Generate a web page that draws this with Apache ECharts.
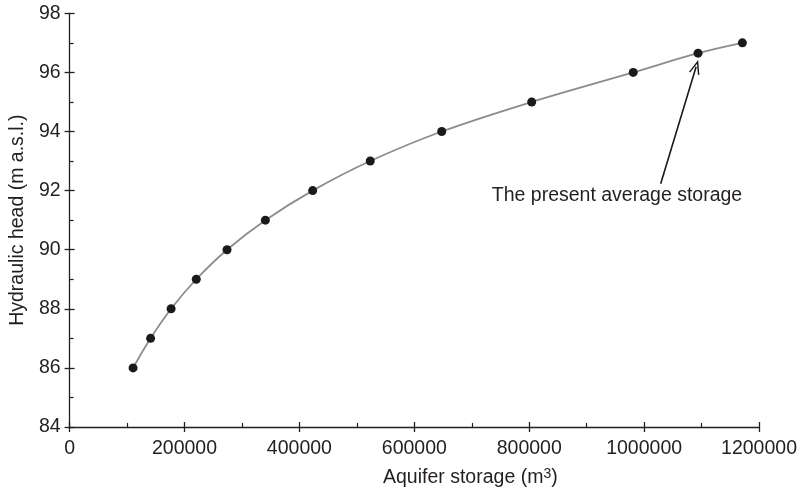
<!DOCTYPE html>
<html>
<head>
<meta charset="utf-8">
<script src="https://cdn.jsdelivr.net/npm/echarts@6/dist/echarts.min.js"></script>
<style>
html,body{margin:0;padding:0;background:#fff;}
#chart{width:800px;height:493px;}
</style>
</head>
<body>
<div id="chart"></div>
<script>
// Data
var storage = [110500, 141000, 176700, 220500, 274000, 340800, 423100, 523300, 647700, 804300, 981000, 1093800, 1171000];
var head = [86, 87, 88, 89, 90, 91, 92, 93, 94, 95, 96, 96.65, 97];
var xTicks = [0, 200000, 400000, 600000, 800000, 1000000, 1200000];
var yTicks = [84, 86, 88, 90, 92, 94, 96, 98];
var annotationText = 'The present average storage';
var arrowFrom = [1028800, 92.23];
var arrowTo = [1090500, 96.19];

var FONT = '"Liberation Sans", Arial, Helvetica, sans-serif';
var TXT = '#231f20';
var pts = storage.map(function (x, i) { return [x, head[i]]; });

var chart = echarts.init(document.getElementById('chart'), null, {renderer: 'canvas'});

function baseX(extra) {
  return Object.assign({
    type: 'value', gridIndex: 0, position: 'bottom',
    min: xTicks[0], max: xTicks[xTicks.length - 1], interval: xTicks[1] - xTicks[0],
    splitLine: {show: false},
    axisLine: {show: true, onZero: false, lineStyle: {color: '#231f20', width: 1.3}}
  }, extra);
}
function baseY(extra) {
  return Object.assign({
    type: 'value', gridIndex: 0, position: 'left',
    min: yTicks[0], max: yTicks[yTicks.length - 1], interval: yTicks[1] - yTicks[0],
    splitLine: {show: false},
    axisLine: {show: true, onZero: false, lineStyle: {color: '#231f20', width: 1.3}}
  }, extra);
}

var option = {
  animation: false,
  backgroundColor: '#fff',
  grid: {left: 66, right: 38.3, top: 13.3, bottom: 64.7, containLabel: false},
  xAxis: [
    baseX({
      name: '{a|Aquifer storage (m}{s|3}{a|)}',
      nameLocation: 'middle', nameGap: 40,
      nameTextStyle: {
        padding: [0, 0, 0, 112],
        rich: {
          a: {fontFamily: FONT, fontSize: 19.5, color: TXT, lineHeight: 22},
          s: {fontFamily: FONT, fontSize: 14, color: TXT, verticalAlign: 'top', lineHeight: 14}
        }
      },
      axisTick: {show: true, inside: false, length: 5, lineStyle: {color: '#231f20', width: 1.3}},
      axisLabel: {show: true, margin: 12, fontFamily: FONT, fontSize: 19.5, color: TXT,
        formatter: function (v) { return xTicks.indexOf(v) >= 0 ? String(v) : ''; }}
    }),
    baseX({
      axisLine: {show: false},
      axisTick: {show: true, inside: true, length: 5, lineStyle: {color: '#231f20', width: 1.3}},
      minorTick: {show: true, splitNumber: 2, length: 4, lineStyle: {color: '#231f20', width: 1.2}},
      axisLabel: {show: false}
    })
  ],
  yAxis: [
    baseY({
      name: 'Hydraulic head (m a.s.l.)',
      nameLocation: 'middle', nameGap: 33, nameRotate: 90,
      nameTextStyle: {fontFamily: FONT, fontSize: 19.5, color: TXT},
      axisTick: {show: true, inside: false, length: 5, lineStyle: {color: '#231f20', width: 1.3}},
      axisLabel: {show: true, margin: 9, fontFamily: FONT, fontSize: 19.5, color: TXT,
        formatter: function (v) { return yTicks.indexOf(v) >= 0 ? String(v) : ''; }}
    }),
    baseY({
      axisLine: {show: false},
      axisTick: {show: true, inside: true, length: 5, lineStyle: {color: '#231f20', width: 1.3}},
      minorTick: {show: true, splitNumber: 2, length: 4, lineStyle: {color: '#231f20', width: 1.2}},
      axisLabel: {show: false}
    })
  ],
  series: [
    {
      type: 'line',
      xAxisIndex: 0, yAxisIndex: 0,
      data: pts,
      smooth: 0.35,
      lineStyle: {color: '#8c8c8c', width: 1.8},
      symbol: 'circle',
      symbolSize: 9,
      itemStyle: {color: '#1a1a1a', borderWidth: 0},
      emphasis: {disabled: true},
      z: 3,
      markLine: {
        silent: true,
        symbol: ['none', 'path://M0,100 L50,0 L100,100 L86,100 L50,28 L14,100 Z'],
        symbolSize: [11, 14],
        label: {show: false},
        lineStyle: {color: '#1a1a1a', width: 1.6, type: 'solid'},
        emphasis: {disabled: true},
        data: [[{coord: arrowFrom}, {coord: arrowTo}]]
      }
    }
  ],
  graphic: [
    {
      type: 'text',
      x: 617, y: 196,
      style: {
        text: annotationText,
        fontFamily: FONT, fontSize: 19.5, fill: TXT,
        textAlign: 'center', textVerticalAlign: 'middle'
      }
    }
  ]
};
chart.setOption(option);
</script>
</body>
</html>
